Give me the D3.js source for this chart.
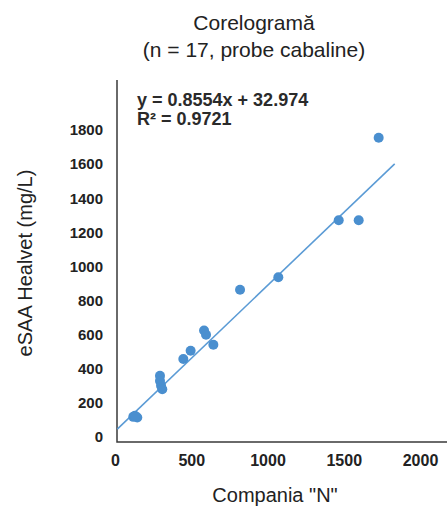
<!DOCTYPE html>
<html lang="ro">
<head>
  <meta charset="UTF-8">
  <title>Corelogramă</title>
  <script src="https://cdn.jsdelivr.net/npm/d3@7"></script>
  <style>
    body { margin: 0; background: #fff; }
    text { font-family: "Liberation Sans", Arial, sans-serif; }
  </style>
</head>
<body>
  <div id="chart"></div>
  <script>
    // Data
    const compX = [120, 146, 131, 295, 295, 302, 310, 448, 496, 584, 597, 645, 820, 1071, 1467, 1598, 1729];
    const healvetY = [118, 114, 124, 359, 329, 300, 280, 457, 506, 624, 600, 541, 863, 937, 1271, 1271, 1755];
    const xTicks = [0, 500, 1000, 1500, 2000];
    const yTicks = [0, 200, 400, 600, 800, 1000, 1200, 1400, 1600, 1800];
    const slope = 0.8554, intercept = 32.974, r2 = 0.9721;
    const trendRange = [15, 1834];
    const titleLines = ["Corelogramă", "(n = 17, probe cabaline)"];

    const W = 447, H = 508;
    const plot = {left: 117, right: 447, top: 80, bottom: 442};

    const svg = d3.select("#chart").append("svg")
      .attr("width", W).attr("height", H);

    const x = d3.scaleLinear().domain([0, 2000]).range([115, 420]);
    const y = d3.scaleLinear().domain([0, 1800]).range([437, 130]);

    // Title
    svg.append("text")
      .attr("x", 254).attr("y", 30)
      .attr("text-anchor", "middle")
      .style("font-size", "21px").style("fill", "#222")
      .text(titleLines[0]);
    svg.append("text")
      .attr("x", 254).attr("y", 57)
      .attr("text-anchor", "middle")
      .style("font-size", "21px").style("fill", "#222")
      .text(titleLines[1]);

    // Tick labels
    const xAxis = svg.append("g")
      .attr("transform", `translate(0,${plot.bottom})`)
      .call(d3.axisBottom(x).tickValues(xTicks).tickSize(0).tickPadding(13).tickFormat(d3.format("d")));
    xAxis.select(".domain").remove();
    xAxis.selectAll("text")
      .style("font-size", "16px").style("font-weight", "bold").style("fill", "#222")
      .style("font-family", "'Liberation Sans', Arial, sans-serif");

    const yAxis = svg.append("g")
      .attr("transform", `translate(${plot.left},0)`)
      .call(d3.axisLeft(y).tickValues(yTicks).tickSize(0).tickPadding(14).tickFormat(d3.format("d")));
    yAxis.select(".domain").remove();
    yAxis.selectAll("text")
      .style("font-size", "15px").style("font-weight", "bold").style("fill", "#222")
      .style("font-family", "'Liberation Sans', Arial, sans-serif");

    // Axis lines
    svg.append("path")
      .attr("d", `M${plot.left},${plot.top}V${plot.bottom}H${plot.right}`)
      .attr("fill", "none")
      .attr("stroke", "#3a3a3a")
      .attr("stroke-width", 1.5);

    // Trend line
    svg.append("line")
      .attr("x1", x(trendRange[0])).attr("y1", y(slope * trendRange[0] + intercept))
      .attr("x2", x(trendRange[1])).attr("y2", y(slope * trendRange[1] + intercept))
      .attr("stroke", "#5b9bd5")
      .attr("stroke-width", 1.6);

    // Points
    svg.selectAll("circle")
      .data(compX.map((v, i) => ({x: v, y: healvetY[i]})))
      .join("circle")
        .attr("cx", d => x(d.x))
        .attr("cy", d => y(d.y))
        .attr("r", 5)
        .attr("fill", "#4a8fcf");

    // Equation
    svg.append("text")
      .attr("x", 137).attr("y", 106)
      .style("font-size", "18px").style("font-weight", "bold").style("fill", "#2a2a2a")
      .text(`y = ${slope}x + ${intercept}`);
    svg.append("text")
      .attr("x", 137).attr("y", 125)
      .style("font-size", "18px").style("font-weight", "bold").style("fill", "#2a2a2a")
      .text(`R² = ${r2}`);

    // Axis titles
    svg.append("text")
      .attr("x", 275).attr("y", 502)
      .attr("text-anchor", "middle")
      .style("font-size", "20px").style("fill", "#222")
      .text('Compania "N"');
    svg.append("text")
      .attr("transform", "translate(32,263) rotate(-90)")
      .attr("text-anchor", "middle")
      .style("font-size", "20px").style("fill", "#222")
      .text("eSAA Healvet (mg/L)");
  </script>
</body>
</html>
